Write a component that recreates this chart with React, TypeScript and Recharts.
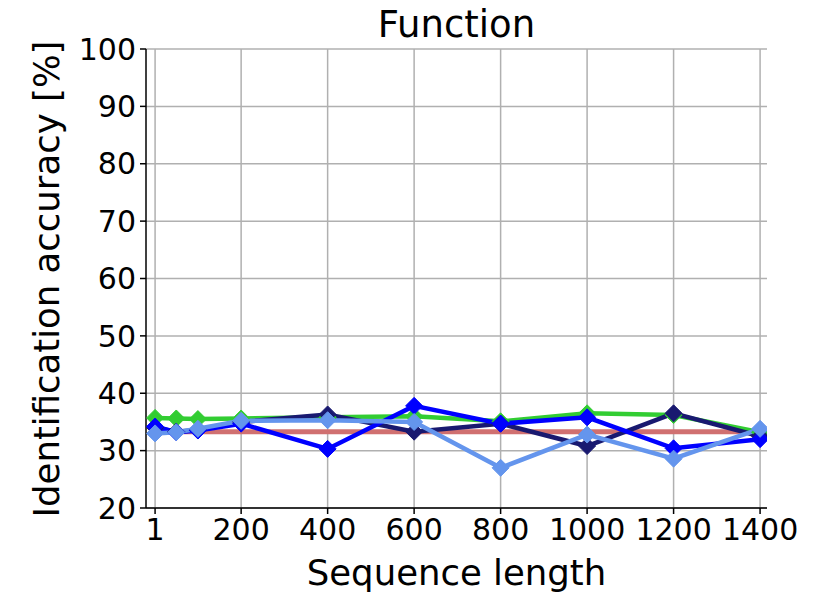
import React from "react";
import { LineChart, Line, XAxis, YAxis, CartesianGrid } from "recharts";

const seqLengths = [1, 50, 100, 200, 400, 600, 800, 1000, 1200, 1400];
const chanceLevel = [33.3, 33.3, 33.3, 33.3, 33.3, 33.3, 33.3, 33.3, 33.3, 33.3];
const greenSeries = [35.7, 35.6, 35.5, 35.6, 35.8, 36.0, 35.1, 36.5, 36.2, 33.2];
const navySeries = [34.0, 33.3, 33.6, 35.0, 36.3, 33.3, 34.7, 30.8, 36.5, 32.5];
const blueSeries = [34.2, 33.2, 33.5, 34.7, 30.3, 37.8, 34.7, 35.8, 30.4, 32.0];
const lightSeries = [33.0, 33.2, 33.8, 35.2, 35.3, 35.0, 27.0, 32.8, 28.6, 33.8];
const xTicks = [1, 200, 400, 600, 800, 1000, 1200, 1400];
const yTicks = [20, 30, 40, 50, 60, 70, 80, 90, 100];

const data = seqLengths.map((x, i) => ({
  x,
  chance: chanceLevel[i],
  green: greenSeries[i],
  navy: navySeries[i],
  blue: blueSeries[i],
  light: lightSeries[i],
}));

const FONT = "DejaVu Sans";

const diamond = (color: string) => (props: any) => {
  const { cx, cy, index } = props;
  if (cx == null || cy == null) return <g key={index} />;
  const r = 8.5;
  return (
    <polygon
      key={index}
      points={`${cx},${cy - r} ${cx + r},${cy} ${cx},${cy + r} ${cx - r},${cy}`}
      fill={color}
      stroke={color}
      strokeWidth={1}
    />
  );
};

export default function App() {
  const W = 830;
  const H = 594;
  return (
    <div style={{ position: "absolute", left: 0, top: 0, width: W, height: H, background: "#fff", fontFamily: FONT }}>
      <LineChart
        width={W}
        height={H}
        data={data}
        margin={{ top: 49, right: 63, bottom: 0, left: 0 }}
      >
        <CartesianGrid stroke="#b0b0b0" strokeWidth={1.5} horizontalValues={yTicks} verticalValues={xTicks} />
        <XAxis
          dataKey="x"
          type="number"
          domain={[-20, 1416]}
          allowDataOverflow
          ticks={xTicks}
          interval={0}
          height={86}
          tickSize={6}
          tickMargin={5}
          stroke="#000"
          axisLine={{ stroke: "#000", strokeWidth: 1.5 }}
          tickLine={{ stroke: "#000", strokeWidth: 1.5 }}
          tick={{ fill: "#000", fontSize: 30, fontFamily: FONT }}
        />
        <XAxis
          xAxisId="top"
          dataKey="x"
          type="number"
          domain={[-20, 1416]}
          allowDataOverflow
          orientation="top"
          height={0}
          tick={false}
          tickLine={false}
          axisLine={{ stroke: "#000", strokeWidth: 1.5 }}
        />
        <YAxis
          type="number"
          domain={[20, 100]}
          ticks={yTicks}
          interval={0}
          width={146}
          tickSize={6}
          tickMargin={4}
          axisLine={{ stroke: "#000", strokeWidth: 1.5 }}
          tickLine={{ stroke: "#000", strokeWidth: 1.5 }}
          tick={{ fill: "#000", fontSize: 30, fontFamily: FONT }}
        />
        <YAxis
          yAxisId="right"
          orientation="right"
          type="number"
          domain={[20, 100]}
          width={0}
          tick={false}
          tickLine={false}
          axisLine={{ stroke: "#000", strokeWidth: 1.5 }}
        />
        <Line dataKey="chance" stroke="#d07070" strokeWidth={5} dot={false} isAnimationActive={false} />
        <Line dataKey="green" stroke="#32cd32" strokeWidth={4.5} dot={diamond("#32cd32")} activeDot={false} isAnimationActive={false} />
        <Line dataKey="navy" stroke="#191970" strokeWidth={4.5} dot={diamond("#191970")} activeDot={false} isAnimationActive={false} />
        <Line dataKey="blue" stroke="#0000ff" strokeWidth={4.5} dot={diamond("#0000ff")} activeDot={false} isAnimationActive={false} />
        <Line dataKey="light" stroke="#6495ed" strokeWidth={4.5} dot={diamond("#6495ed")} activeDot={false} isAnimationActive={false} />
      </LineChart>
      <div style={{ position: "absolute", left: 146, width: 621, top: 5, textAlign: "center", fontSize: 37, lineHeight: "40px", color: "#000" }}>
        Function
      </div>
      <div style={{ position: "absolute", left: 146, width: 621, top: 553, textAlign: "center", fontSize: 35.5, lineHeight: "40px", color: "#000" }}>
        Sequence length
      </div>
      <div
        style={{
          position: "absolute",
          left: 47 - 260,
          top: 279 - 20,
          width: 520,
          height: 40,
          lineHeight: "40px",
          textAlign: "center",
          fontSize: 35.5,
          color: "#000",
          transform: "rotate(-90deg)",
          transformOrigin: "260px 20px",
        }}
      >
        Identification accuracy [%]
      </div>
    </div>
  );
}
